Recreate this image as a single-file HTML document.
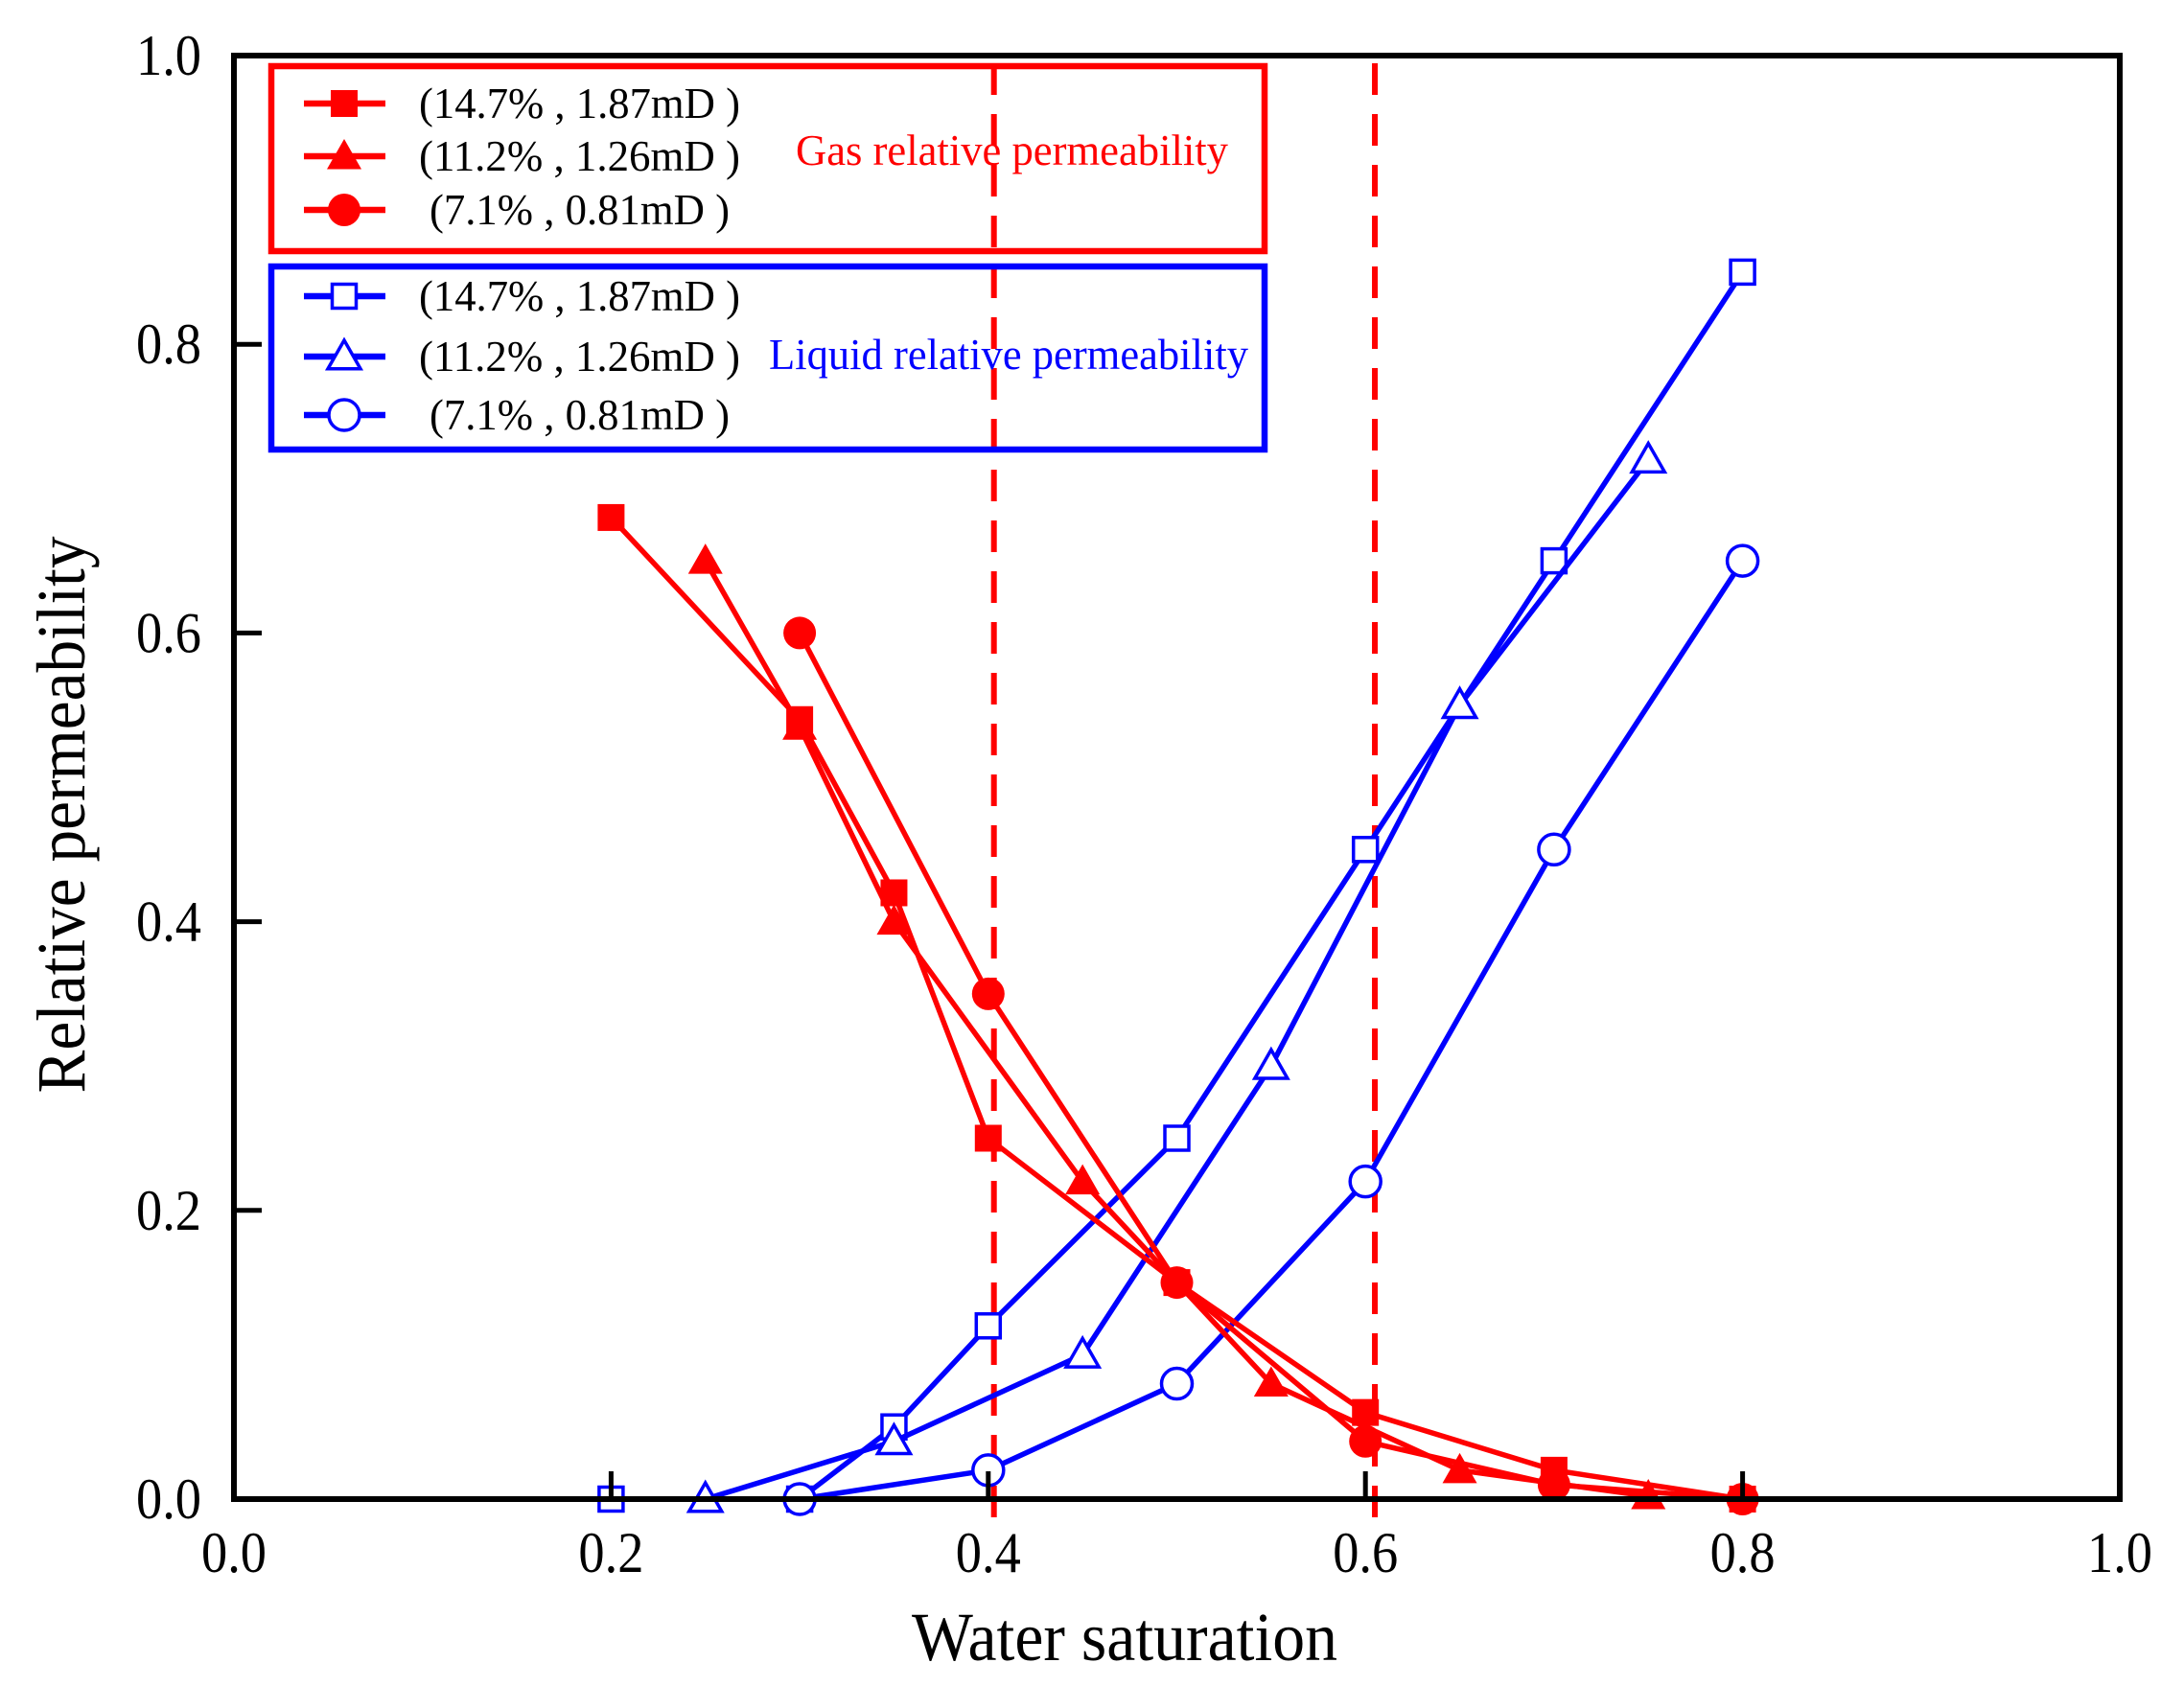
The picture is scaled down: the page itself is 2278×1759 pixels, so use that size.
<!DOCTYPE html>
<html><head><meta charset="utf-8"><style>
html,body{margin:0;padding:0;background:#fff;}
svg{display:block;}
text{font-family:"Liberation Serif",serif;}
</style></head><body>
<svg id="chart" width="2278" height="1759" viewBox="0 0 2278 1759" xmlns="http://www.w3.org/2000/svg">
<rect width="2278" height="1759" fill="#fff"/>
<g id="plot"></g>
</svg>
<script>
const xTicks = [0.0, 0.2, 0.4, 0.6, 0.8, 1.0];
const yTicks = [0.0, 0.2, 0.4, 0.6, 0.8, 1.0];
const tickLabels = ["0.0", "0.2", "0.4", "0.6", "0.8", "1.0"];
const refLines = [0.403, 0.605];

const gasSqX = [0.2, 0.3, 0.35, 0.4, 0.5, 0.6, 0.7, 0.8];
const gasSqY = [0.68, 0.54, 0.42, 0.25, 0.15, 0.06, 0.02, 0.0];
const gasTriX = [0.25, 0.3, 0.35, 0.45, 0.55, 0.65, 0.75];
const gasTriY = [0.65, 0.535, 0.40, 0.22, 0.08, 0.02, 0.002];
const gasCirX = [0.3, 0.4, 0.5, 0.6, 0.7, 0.8];
const gasCirY = [0.60, 0.35, 0.15, 0.04, 0.01, 0.0];

const liqSqX = [0.2, 0.3, 0.35, 0.4, 0.5, 0.6, 0.7, 0.8];
const liqSqY = [0.0, 0.0, 0.05, 0.12, 0.25, 0.45, 0.65, 0.85];
const liqTriX = [0.25, 0.35, 0.45, 0.55, 0.65, 0.75];
const liqTriY = [0.0, 0.04, 0.10, 0.30, 0.55, 0.72];
const liqCirX = [0.3, 0.4, 0.5, 0.6, 0.7, 0.8];
const liqCirY = [0.0, 0.02, 0.08, 0.22, 0.45, 0.65];

const legendLabels = ["(14.7% , 1.87mD )", "(11.2% , 1.26mD )", "(7.1% , 0.81mD )"];

const L = 244, R = 2211, T = 58, B = 1564;
const sx = v => L + v * (R - L);
const sy = v => B - v * (B - T);
const NS = "http://www.w3.org/2000/svg";
const g = document.getElementById('plot');
function el(tag, attrs, parent) {
  const e = document.createElementNS(NS, tag);
  for (const k in attrs) e.setAttribute(k, attrs[k]);
  (parent || g).appendChild(e);
  return e;
}
const RED = "#ff0000", BLUE = "#0000ff";

function marker(type, x, y, color, filled, parent) {
  let m;
  const fill = filled ? color : "#fff";
  const sw = filled ? 0 : 3.5;
  if (type === 'sq') {
    const s = filled ? 28 : 25;
    m = el('rect', {x: x - s/2, y: y - s/2, width: s, height: s, fill: fill, stroke: color, 'stroke-width': sw}, parent);
  } else if (type === 'tri') {
    const s = filled ? 18 : 17;
    m = el('polygon', {points: `${x},${y - s} ${x - s},${y + s*0.75} ${x + s},${y + s*0.75}`, fill: fill, stroke: color, 'stroke-width': sw}, parent);
  } else {
    m = el('circle', {cx: x, cy: y, r: filled ? 17 : 16, fill: fill, stroke: color, 'stroke-width': sw}, parent);
  }
  return m;
}

function series(xs, ys, type, color, filled, name) {
  const grp = el('g', {});
  
  
  const pts = xs.map((v, i) => sx(v) + ',' + sy(ys[i])).join(' ');
  const line = el('polyline', {points: pts, fill: 'none', stroke: color, 'stroke-width': 5.5, 'stroke-linejoin': 'round'}, grp);
  
  
  xs.forEach((v, i) => {
    const m = marker(type, sx(v), sy(ys[i]), color, filled, grp);
    
    
  });
}

refLines.forEach(v => {
  const d = el('line', {x1: sx(v), x2: sx(v), y1: T + 8, y2: B + 22, stroke: RED, 'stroke-width': 6, 'stroke-dasharray': '33 20'});
  
  
});

series(liqSqX, liqSqY, 'sq', BLUE, false, 'liquid-series-14-7');
series(liqTriX, liqTriY, 'tri', BLUE, false, 'liquid-series-11-2');
series(liqCirX, liqCirY, 'cir', BLUE, false, 'liquid-series-7-1');
series(gasSqX, gasSqY, 'sq', RED, true, 'gas-series-14-7');
series(gasTriX, gasTriY, 'tri', RED, true, 'gas-series-11-2');
series(gasCirX, gasCirY, 'cir', RED, true, 'gas-series-7-1');

const frame = el('rect', {x: L, y: T, width: R - L, height: B - T, fill: 'none', stroke: '#000', 'stroke-width': 6});



xTicks.forEach((v, i) => {
  const t = el('line', {x1: sx(v), x2: sx(v), y1: B, y2: B - 29, stroke: '#000', 'stroke-width': 5});
  
  
  const lb = el('text', {x: sx(v), y: 1640, 'font-size': 60, 'text-anchor': 'middle', fill: '#000', textLength: 68, lengthAdjust: 'spacingAndGlyphs'});
  lb.textContent = tickLabels[i];
  
  
});
yTicks.forEach((v, i) => {
  const t = el('line', {x1: L, x2: L + 29, y1: sy(v), y2: sy(v), stroke: '#000', 'stroke-width': 5});
  
  
  const lb = el('text', {x: 210, y: sy(v) + 20, 'font-size': 60, 'text-anchor': 'end', fill: '#000', textLength: 68, lengthAdjust: 'spacingAndGlyphs'});
  lb.textContent = tickLabels[i];
  
  
});

const xt = el('text', {x: 1173, y: 1732, 'font-size': 72, 'text-anchor': 'middle', fill: '#000', textLength: 444, lengthAdjust: 'spacingAndGlyphs'});
xt.textContent = 'Water saturation';


const yt = el('text', {x: 0, y: 0, 'font-size': 72, 'text-anchor': 'middle', fill: '#000', transform: 'translate(88,850) rotate(-90)', textLength: 581, lengthAdjust: 'spacingAndGlyphs'});
yt.textContent = 'Relative permeability';



function legendBox(y0, y1, color, types, filled, rows, title, tx, ty, tlen, name) {
  const grp = el('g', {});
  
  
  el('rect', {x: 283, y: y0, width: 1036, height: y1 - y0, fill: 'none', stroke: color, 'stroke-width': 6.5}, grp);
  rows.forEach((ry, i) => {
    const ln = el('line', {x1: 317, x2: 402, y1: ry, y2: ry, stroke: color, 'stroke-width': 6.5}, grp);
    
    
    const m = marker(types[i], 359, ry, color, filled, grp);
    
    
    const txt = el('text', {x: i === 2 ? 448 : 437, y: ry + 15, 'font-size': 46, fill: '#000', textLength: i === 2 ? 313 : 335, lengthAdjust: 'spacingAndGlyphs'}, grp);
    txt.textContent = legendLabels[i];
    
    
  });
  const tt = el('text', {x: tx, y: ty, 'font-size': 46, fill: color, textLength: tlen, lengthAdjust: 'spacingAndGlyphs'}, grp);
  tt.textContent = title;
  
  
}
legendBox(69, 262, RED, ['sq', 'tri', 'cir'], true, [108, 163, 219], 'Gas relative permeability', 830, 172, 451, 'gas-legend');
legendBox(278, 469, BLUE, ['sq', 'tri', 'cir'], false, [309, 372, 433], 'Liquid relative permeability', 802, 385, 500, 'liquid-legend');
</script>
</body></html>
